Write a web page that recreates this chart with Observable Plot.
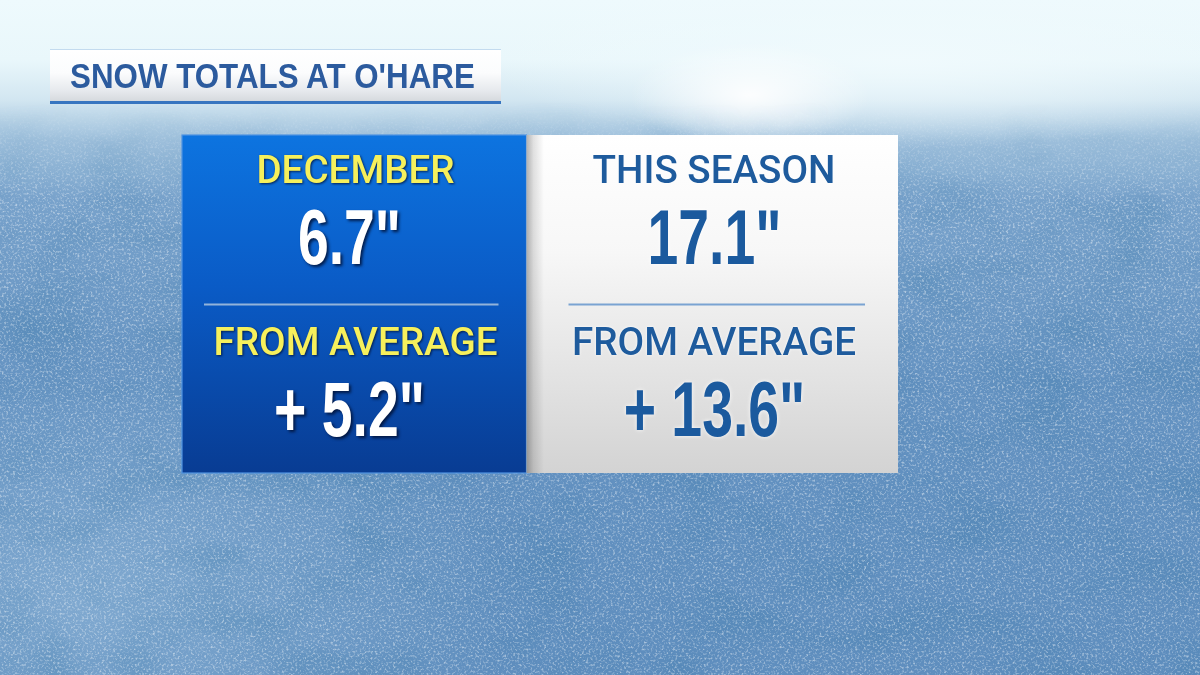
<!DOCTYPE html>
<html>
<head>
<meta charset="utf-8">
<script src="https://cdn.jsdelivr.net/npm/d3@7"></script>
<script src="https://cdn.jsdelivr.net/npm/@observablehq/plot@0.6"></script>
<style>
html, body { margin: 0; padding: 0; width: 1200px; height: 675px; overflow: hidden; }
body {
  position: relative;
  background:
    radial-gradient(ellipse 160px 70px at 750px 95px, rgba(255,255,255,0.9), rgba(255,255,255,0) 75%),
    radial-gradient(ellipse 520px 110px at 900px 60px, rgba(240,250,253,0.95), rgba(240,250,253,0) 80%),
    radial-gradient(ellipse 600px 360px at 90px 600px, rgba(160,195,225,0.5), rgba(160,195,225,0) 70%),
    linear-gradient(180deg, #eefafd 0px, #e9f7fb 60px, #d2e6f1 100px, #9dbfdb 140px, #78a2cb 200px, #6492c1 380px, #5f8ebe 675px);
}
#tex { position: absolute; left: 0; top: 0; }
#title {
  position: absolute; left: 50px; top: 49px; width: 451px; height: 55px;
  box-sizing: border-box;
  border-top: 1px solid #c3dbef;
  border-bottom: 3px solid #3775c0;
  background: linear-gradient(180deg, #ffffff 0%, #fbfcfd 45%, #e6e9ed 80%, #d6dade 100%);
}
#title span {
  position: absolute; left: 20px; top: 6px;
  font-family: "Liberation Sans", Arial, sans-serif;
  font-weight: bold; font-size: 35px; line-height: 40px;
  color: #2c5b9e;
  display: inline-block; transform-origin: 0 50%; transform: scaleX(0.895);
  white-space: nowrap;
}
#chart { position: absolute; left: 0; top: 0; }
</style>
</head>
<body>
<svg id="tex" width="1200" height="675">
  <defs>
    <filter id="noise" x="0" y="0" width="100%" height="100%">
      <feTurbulence type="fractalNoise" baseFrequency="0.45" numOctaves="2" seed="7"/>
      <feColorMatrix values="0 0 0 0 1  0 0 0 0 1  0 0 0 0 1  3.2 0 0 0 -1.6"/>
    </filter>
    <filter id="mottle" x="0" y="0" width="100%" height="100%">
      <feTurbulence type="fractalNoise" baseFrequency="0.012 0.02" numOctaves="3" seed="3"/>
      <feColorMatrix values="0 0 0 0 0.05  0 0 0 0 0.2  0 0 0 0 0.4  2 0 0 0 -0.9"/>
    </filter>
    <linearGradient id="fade" x1="0" y1="0" x2="0" y2="1">
      <stop offset="0" stop-color="#000"/>
      <stop offset="0.15" stop-color="#000"/>
      <stop offset="0.3" stop-color="#fff"/>
      <stop offset="1" stop-color="#fff"/>
    </linearGradient>
    <mask id="fadeMask"><rect width="1200" height="675" fill="url(#fade)"/></mask>
  </defs>
  <rect width="1200" height="675" filter="url(#mottle)" mask="url(#fadeMask)" opacity="0.35"/>
  <rect width="1200" height="675" filter="url(#noise)" mask="url(#fadeMask)" opacity="0.45"/>
</svg>
<div id="title"><span>SNOW TOTALS AT O'HARE</span></div>
<div id="chart"></div>
<script>
// ---- data ----
const panels = ["DECEMBER", "THIS SEASON"];
const totals = [6.7, 17.1];
const departures = [5.2, 13.6];
const departureLabel = "FROM AVERAGE";
const rowKeys = ["total", "departure"];

const rows = panels.flatMap((p, i) => [
  {panel: p, row: "total", label: p, value: totals[i]},
  {panel: p, row: "departure", label: departureLabel, value: departures[i]}
]);
const fmt = d => (d.row === "departure" ? "+ " : "") + d.value.toFixed(1) + '"';
const left = rows.filter(d => d.panel === panels[0]);
const right = rows.filter(d => d.panel === panels[1]);

const labelFont = {fontFamily: "Roboto, Liberation Sans, sans-serif", fontWeight: 500, fontSize: 39};
const valueFont = {fontFamily: "Liberation Sans, Arial, sans-serif", fontWeight: "bold", fontSize: 78};

const chart = Plot.plot({
  width: 1200,
  height: 675,
  marginLeft: 181, marginRight: 302, marginTop: 135, marginBottom: 202,
  x: {type: "band", domain: panels, padding: 0, axis: null},
  y: {type: "band", domain: rowKeys, padding: 0, range: [118, 462], axis: null},
  style: {background: "transparent", overflow: "visible"},
  marks: [
    // panels
    Plot.cell([panels[0]], {x: d => d, fill: "url(#blueGrad)", stroke: "#4f93e2", strokeWidth: 1.2, insetRight: 13.5}),
    Plot.cell([panels[1]], {x: d => d, fill: "url(#whiteGrad)", insetLeft: -13.5}),
    Plot.cell([panels[1]], {x: d => d, fill: "url(#shadowGrad)", insetLeft: -13.5, insetRight: 354}),
    // dividers
    Plot.tickY(left.filter(d => d.row === "departure"), {x: "panel", y: "row", stroke: "#93b3da", strokeWidth: 2, insetLeft: 22, insetRight: 41.5, dy: -72}),
    Plot.tickY(right.filter(d => d.row === "departure"), {x: "panel", y: "row", stroke: "#7aa3d2", strokeWidth: 2, insetLeft: 28.5, insetRight: 33, dy: -72}),
    // labels
    Plot.text(left, {x: "panel", y: "row", text: "label", fill: "#f6f05c", dx: -6, dy: -34, lineAnchor: "middle", ...labelFont}),
    Plot.text(right, {x: "panel", y: "row", text: "label", fill: "#1e5b9d", dx: -5.5, dy: -34, lineAnchor: "middle", ...labelFont}),
    // values
    Plot.text(left, {x: "panel", y: "row", text: fmt, fill: "#ffffff", dx: -12, dy: 35, lineAnchor: "middle", ...valueFont}),
    Plot.text(right, {x: "panel", y: "row", text: fmt, fill: "#1b5a9e", dx: -5, dy: 35, lineAnchor: "middle", ...valueFont})
  ]
});

// gradients
const svg = d3.select(chart);
const defs = svg.insert("defs", ":first-child");
const bg = defs.append("linearGradient").attr("id", "blueGrad").attr("x1", 0).attr("y1", 0).attr("x2", 0).attr("y2", 1);
bg.append("stop").attr("offset", 0).attr("stop-color", "#0d74e0");
bg.append("stop").attr("offset", 0.45).attr("stop-color", "#0a5bc6");
bg.append("stop").attr("offset", 1).attr("stop-color", "#083c93");
const wg = defs.append("linearGradient").attr("id", "whiteGrad").attr("x1", 0).attr("y1", 0).attr("x2", 0).attr("y2", 1);
wg.append("stop").attr("offset", 0).attr("stop-color", "#ffffff");
wg.append("stop").attr("offset", 0.35).attr("stop-color", "#f7f7f7");
wg.append("stop").attr("offset", 1).attr("stop-color", "#d3d3d3");
const sg = defs.append("linearGradient").attr("id", "shadowGrad").attr("x1", 0).attr("y1", 0).attr("x2", 1).attr("y2", 0);
sg.append("stop").attr("offset", 0).attr("stop-color", "#000").attr("stop-opacity", 0.3);
sg.append("stop").attr("offset", 0.4).attr("stop-color", "#000").attr("stop-opacity", 0.12);
sg.append("stop").attr("offset", 1).attr("stop-color", "#000").attr("stop-opacity", 0);

document.getElementById("chart").append(chart);

// horizontal condensing and shadows for the text marks
const textGroups = svg.selectAll('g[aria-label="text"]').nodes();
const styles = [
  {s: 0.99, f: "drop-shadow(1.5px 1.5px 1px rgba(0,20,60,0.85))"},
  {s: 0.99, f: "drop-shadow(0px 0px 1.5px rgba(255,255,255,0.9))"},
  {s: 0.71, f: "drop-shadow(2px 2px 1.5px rgba(0,15,50,0.85))"},
  {s: 0.71, f: "drop-shadow(0px 0px 2px rgba(255,255,255,0.95))"}
];
textGroups.forEach((g, k) => {
  const st = styles[k];
  g.style.filter = st.f;
  d3.select(g).selectAll("text").each(function () {
    const b = this.getBBox();
    const cx = b.x + b.width / 2;
    const t = this.getAttribute("transform") || "";
    this.setAttribute("transform", `${t} translate(${cx},0) scale(${st.s},1) translate(${-cx},0)`);
  });
});
</script>
</body>
</html>
